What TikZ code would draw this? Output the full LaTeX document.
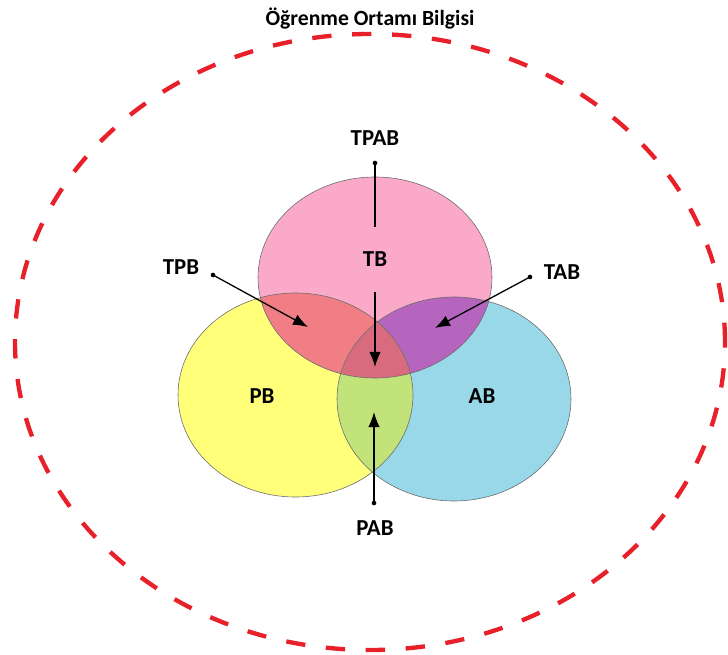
\documentclass[tikz,border=0pt]{standalone}
\usepackage{fontspec}
\setmainfont{Carlito}
\usetikzlibrary{positioning,arrows.meta}
\definecolor{tbpink}{RGB}{250,169,200}
\definecolor{pbyellow}{RGB}{255,255,122}
\definecolor{abblue}{RGB}{152,216,232}
\definecolor{tpbred}{RGB}{240,126,132}
\definecolor{tabpurple}{RGB}{181,101,190}
\definecolor{pabgreen}{RGB}{194,226,122}
\definecolor{tpabrose}{RGB}{216,108,126}
\definecolor{envred}{RGB}{232,32,42}
\tikzset{
  envline/.style={draw=envred, line width=1.3mm, dash pattern=on 5.8mm off 6.2mm},
  setedge/.style={draw=gray!85!black, line width=0.5pt},
  setlabel/.style={font=\bfseries\fontsize{19.5}{22}\selectfont, inner sep=1pt},
  titlelabel/.style={font=\bfseries\fontsize{18.5}{22}\selectfont, inner sep=1pt},
  pointer/.style={-{Latex[length=4.5mm, width=3.4mm]}, line width=1.1pt},
  plainline/.style={line width=1.1pt},
  startdot/.style={fill, circle, inner sep=0pt, minimum size=1.4mm}
}

\begin{document}
\begin{tikzpicture}[x=0.03cm, y=0.03cm]
      \useasboundingbox (0,0) rectangle (728,-655);
      % outer environment
      \draw[envline] (370,-342) ellipse [x radius=355, y radius=308];
      \node[titlelabel] (title) at (370,-19) {Öğrenme Ortamı Bilgisi};

      % set centres
      \coordinate (tc) at (375,-277.5);
      \coordinate (pc) at (295.5,-395);
      \coordinate (ac) at (454,-399);

      % plain fills
      \fill[pbyellow] (pc) ellipse [x radius=117.5, y radius=102];
      \fill[abblue] (ac) ellipse [x radius=117, y radius=102];
      \fill[tbpink] (tc) ellipse [x radius=117, y radius=100.5];
      % overlaps
      \begin{scope}
        \clip (tc) ellipse [x radius=117, y radius=100.5];
        \fill[tpbred] (pc) ellipse [x radius=117.5, y radius=102];
        \fill[tabpurple] (ac) ellipse [x radius=117, y radius=102];
      \end{scope}
      \begin{scope}
        \clip (pc) ellipse [x radius=117.5, y radius=102];
        \clip (ac) ellipse [x radius=117, y radius=102];
        \fill[pabgreen] (0,0) rectangle (728,-655);
        \clip (tc) ellipse [x radius=117, y radius=100.5];
        \fill[tpabrose] (0,0) rectangle (728,-655);
      \end{scope}
      % outlines
      \draw[setedge] (pc) ellipse [x radius=117.5, y radius=102];
      \draw[setedge] (ac) ellipse [x radius=117, y radius=102];
      \draw[setedge] (tc) ellipse [x radius=117, y radius=100.5];

      % labels
      \node[setlabel, minimum height=1.95cm] (tb) at (375,-259.5) {TB};
      \node[setlabel] (pb) at (262,-396) {PB};
      \node[setlabel] (ab) at (482,-396) {AB};
      \node[setlabel] (tpab) at (375,-138) {TPAB};
      \node[setlabel] (tpb) at (181,-267) {TPB};
      \node[setlabel] (tab) at (562,-272) {TAB};
      \node[setlabel] (pab) at (375,-528) {PAB};

      % pointers
      \node[startdot] (tpabdot) at (375,-163) {};
      \node[startdot] (tpbdot) at (213,-275) {};
      \node[startdot] (tabdot) at (530,-277) {};
      \node[startdot] (pabdot) at (374,-503) {};
      \coordinate (tpabtip) at (375,-367);
      \coordinate (tpbtip) at (308,-327);
      \coordinate (tabtip) at (435,-328);
      \coordinate (pabtip) at (374,-412);
      \draw[plainline] (tpabdot.center) -- (tb.north);
      \draw[pointer] (tb.south) -- (tpabtip);
      \draw[pointer] (tpbdot.center) -- (tpbtip);
      \draw[pointer] (tabdot.center) -- (tabtip);
      \draw[pointer] (pabdot.center) -- (pabtip);
    \end{tikzpicture}
\end{document}
